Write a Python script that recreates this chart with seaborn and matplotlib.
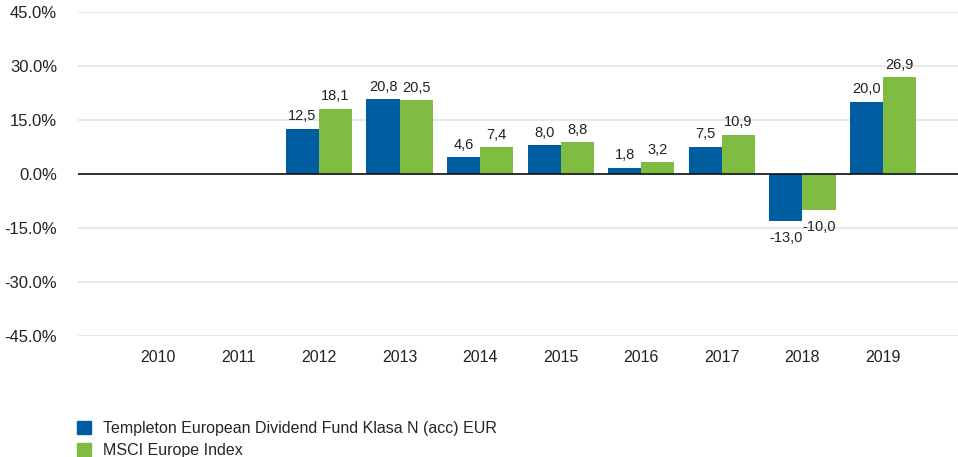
import matplotlib
matplotlib.use('Agg')
import matplotlib.pyplot as plt
import seaborn as sns
import pandas as pd
import numpy as np
from matplotlib.patches import Patch

years = ['2010', '2011', '2012', '2013', '2014', '2015', '2016', '2017', '2018', '2019']
fund = [np.nan, np.nan, 12.5, 20.8, 4.6, 8.0, 1.8, 7.5, -13.0, 20.0]
index = [np.nan, np.nan, 18.1, 20.5, 7.4, 8.8, 3.2, 10.9, -10.0, 26.9]
series = ['Templeton European Dividend Fund Klasa N (acc) EUR', 'MSCI Europe Index']
colors = ['#005DA2', '#80BC42']

df = pd.DataFrame({'year': years * 2,
                   'value': fund + index,
                   'series': [series[0]] * len(years) + [series[1]] * len(years)})

sns.set_style('white')
plt.rcParams['font.family'] = ['Liberation Sans', 'DejaVu Sans']

fig = plt.figure(figsize=(9.58, 4.57), dpi=100)
ax = fig.add_axes([78 / 958, 1 - 336 / 457, 880 / 958, 324 / 457])

sns.barplot(data=df, x='year', y='value', hue='series', order=years, hue_order=series,
            palette=colors, width=0.82, saturation=1, linewidth=0, ax=ax, legend=False)

def fmt(v, keep):
    return f'{v:.1f}'.replace('.', ',') if keep else ''

for c in ax.containers:
    vals = c.datavalues
    ax.bar_label(c, labels=[fmt(v, v >= 0) for v in vals], padding=4, fontsize=10.5, color='#222222')
    ax.bar_label(c, labels=[fmt(v, v < 0) for v in vals], padding=7, fontsize=10.5, color='#222222')

ax.set_ylim(-45, 45)
ax.set_xlim(-0.99, 9.93)
ax.set_yticks([-45, -30, -15, 0, 15, 30, 45])
ax.set_yticklabels([f'{t:.1f}%' for t in [-45, -30, -15, 0, 15, 30, 45]])
ax.yaxis.grid(True, color='#e3e3e3', linewidth=1.2)
ax.set_axisbelow(True)
ax.axhline(0, color='#111111', linewidth=1.2)
for s in ax.spines.values():
    s.set_visible(False)
ax.tick_params(axis='y', length=0, pad=15, labelsize=12, labelcolor='#222222')
ax.tick_params(axis='x', length=0, pad=10, labelsize=11.5, labelcolor='#222222')
ax.set_xlabel('')
ax.set_ylabel('')

handles = [Patch(color=colors[0]), Patch(color=colors[1])]
fig.legend(handles, series, loc='upper left', bbox_to_anchor=(77 / 958, 1 - 421 / 457),
           frameon=False, fontsize=11.5, handlelength=0.9, handleheight=0.9,
           handletextpad=0.7, labelspacing=0.4, borderpad=0, borderaxespad=0)

fig.savefig('out.png', dpi=100)
